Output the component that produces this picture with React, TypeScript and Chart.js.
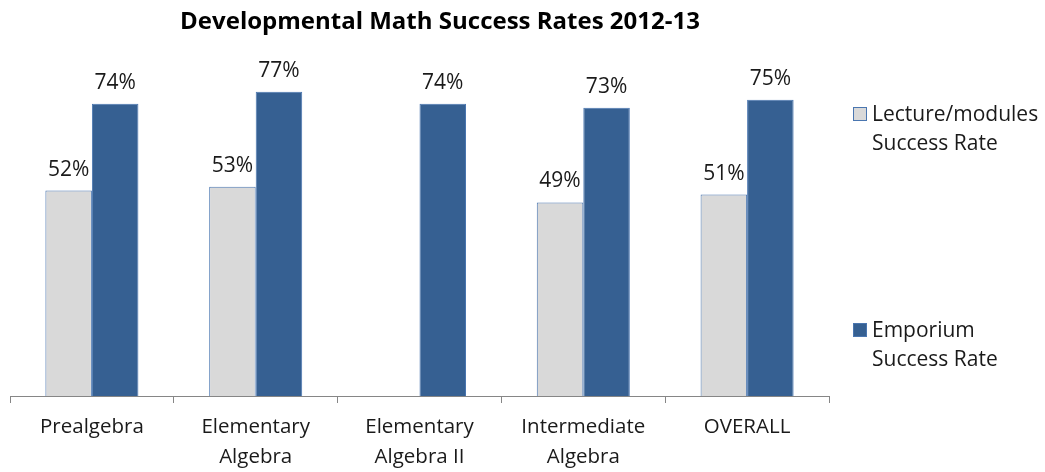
import React, { useEffect, useRef } from "react";
import { Chart, registerables } from "chart.js";
Chart.register(...registerables);

const chartTitle = "Developmental Math Success Rates 2012-13";
const categories: string[][] = [
  ["Prealgebra"],
  ["Elementary", "Algebra"],
  ["Elementary", "Algebra II"],
  ["Intermediate", "Algebra"],
  ["OVERALL"],
];
const lectureRates: (number | null)[] = [52, 53, null, 49, 51];
const emporiumRates: number[] = [74, 77, 74, 73, 75];
const lectureName = ["Lecture/modules", "Success Rate"];
const emporiumName = ["Emporium", "Success Rate"];

const FONT = "'Open Sans', 'Noto Sans', sans-serif";
const GRAY = "#d9d9d9";
const BLUE = "#366092";
const EDGE = "#4a76b0";

const overlayPlugin = {
  id: "overlay",
  afterDraw(chart: any) {
    const ctx = chart.ctx;
    ctx.save();
    // title
    ctx.fillStyle = "#000";
    ctx.font = `bold 24px ${FONT}`;
    ctx.textAlign = "center";
    ctx.textBaseline = "middle";
    ctx.fillText(chartTitle, 440, 22);
    // data labels
    ctx.font = `21px ${FONT}`;
    ctx.fillStyle = "#1a1a1a";
    chart.data.datasets.forEach((ds: any, di: number) => {
      const meta = chart.getDatasetMeta(di);
      meta.data.forEach((el: any, i: number) => {
        const v = ds.data[i];
        if (v === null || v === undefined) return;
        ctx.fillText(v + "%", el.x, el.y - 21);
      });
    });
    // legend
    const items = [
      { name: lectureName, fill: GRAY, y: 115 },
      { name: emporiumName, fill: BLUE, y: 331 },
    ];
    ctx.textAlign = "left";
    items.forEach((it) => {
      ctx.fillStyle = it.fill;
      ctx.fillRect(853.5, it.y - 7.5, 13, 13);
      ctx.strokeStyle = EDGE;
      ctx.lineWidth = 1;
      ctx.strokeRect(853.5, it.y - 7.5, 13, 13);
      ctx.fillStyle = "#1a1a1a";
      it.name.forEach((line, li) => {
        ctx.fillText(line, 872, it.y + li * 29);
      });
    });
    ctx.restore();
  },
};

export default function App() {
  const ref = useRef<HTMLCanvasElement>(null);
  useEffect(() => {
    const chart = new Chart(ref.current!, {
      type: "bar",
      data: {
        labels: categories as any,
        datasets: [
          {
            label: lectureName.join(" "),
            data: lectureRates,
            backgroundColor: GRAY,
            borderColor: EDGE,
            borderWidth: 1,
            categoryPercentage: 0.568,
            barPercentage: 1,
          },
          {
            label: emporiumName.join(" "),
            data: emporiumRates,
            backgroundColor: BLUE,
            borderColor: EDGE,
            borderWidth: 1,
            categoryPercentage: 0.568,
            barPercentage: 1,
          },
        ],
      },
      options: {
        animation: false,
        responsive: false,
        layout: { padding: { left: 10, right: 216, top: 80, bottom: 0 } },
        plugins: {
          legend: { display: false },
          title: { display: false },
          tooltip: { enabled: false },
        },
        scales: {
          x: {
            afterFit: (s: any) => {
              s.height = 76;
            },
            grid: {
              display: true,
              drawOnChartArea: false,
              tickLength: 7,
              color: "#868686",
              offset: true,
            },
            border: { display: true, color: "#868686" },
            ticks: {
              autoSkip: false,
              maxRotation: 0,
              color: "#1a1a1a",
              padding: 9,
              font: { family: FONT, size: 20.5, lineHeight: "30px" as any },
            },
          },
          y: {
            display: false,
            min: 0,
            max: 80,
          },
        },
      },
      plugins: [overlayPlugin],
    });
    return () => chart.destroy();
  }, []);
  return (
    <div style={{ position: "absolute", left: 0, top: 0, width: 1045, height: 472, background: "#fff" }}>
      <canvas ref={ref} width={1045} height={472} style={{ width: 1045, height: 472 }} />
    </div>
  );
}
